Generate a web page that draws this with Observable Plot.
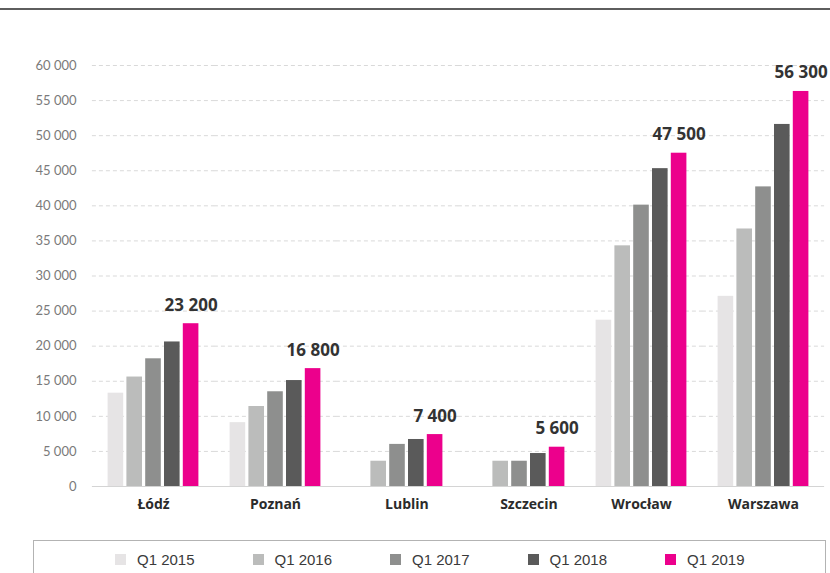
<!DOCTYPE html>
<html>
<head>
<meta charset="utf-8">
<script src="https://cdn.jsdelivr.net/npm/d3@7"></script>
<script src="https://cdn.jsdelivr.net/npm/@observablehq/plot@0.6"></script>
<style>
  html, body { margin: 0; padding: 0; background: #fff; }
  body { width: 830px; height: 573px; position: relative; overflow: hidden; font-family: Lato, "Open Sans", sans-serif; }
  #topline { position: absolute; left: 0; top: 8px; width: 830px; height: 2px; background: #5e5e5e; }
  #chart { position: absolute; left: 0; top: 0; }
  #legend { position: absolute; left: 33px; top: 540px; width: 793px; height: 40px; border: 1px solid #b3b3b3; border-bottom: none; box-sizing: border-box; display: flex; align-items: center; padding-left: 81px; padding-bottom: 2px; }
  .item { width: 137.5px; display: flex; align-items: center; font-family: "Liberation Sans", Arial, sans-serif; font-size: 15px; color: #3a3a3a; }
  .sw { width: 11px; height: 11px; margin-right: 11px; flex: none; }
</style>
</head>
<body>
<div id="topline"></div>
<div id="chart"></div>
<div id="legend"></div>
<script>
const cities = ["Łódź", "Poznań", "Lublin", "Szczecin", "Wrocław", "Warszawa"];
const series = ["Q1 2015", "Q1 2016", "Q1 2017", "Q1 2018", "Q1 2019"];
const colors = ["#e6e4e5", "#bbbcbb", "#8e8f8e", "#5a5a5a", "#ec008c"];
const q2015 = [13300, 9100, null, null, 23700, 27100];
const q2016 = [15600, 11400, 3600, 3600, 34300, 36700];
const q2017 = [18200, 13500, 6000, 3600, 40100, 42700];
const q2018 = [20600, 15100, 6700, 4700, 45300, 51600];
const q2019 = [23200, 16800, 7400, 5600, 47500, 56300];
const yTicks = [0, 5000, 10000, 15000, 20000, 25000, 30000, 35000, 40000, 45000, 50000, 55000, 60000];

const seriesValues = [q2015, q2016, q2017, q2018, q2019];
const rows = [];
cities.forEach((city, ci) => {
  seriesValues.forEach((vals, si) => {
    if (vals[ci] != null) rows.push({city, series: series[si], idx: si, value: vals[ci]});
  });
});
// label position: centre of the bars present in each city group
const cityLabels = cities.map(city => {
  const present = rows.filter(r => r.city === city).map(r => r.idx);
  return {city, x: (d3.min(present) + d3.max(present) + 1) / 2};
});
const topLabels = cities.map((city, ci) => ({city, idx: 4, value: q2019[ci]}));
const fmt = v => d3.format(",")(v).replace(/,/g, " ");

const half = 14.1;
const chart = Plot.plot({
  width: 830,
  height: 530,
  marginTop: 65,
  marginBottom: 44,
  marginLeft: 92,
  marginRight: 6,
  style: {fontFamily: "Lato, 'Open Sans', sans-serif", background: "transparent"},
  fx: {domain: cities, paddingInner: 0.2316, paddingOuter: 0.1158, axis: null, label: null},
  x: {domain: [0, 5], axis: null},
  y: {domain: [0, 60000], axis: null},
  color: {domain: series, range: colors},
  marks: [
    Plot.ruleY(yTicks.filter(d => d > 0), {stroke: "#d9d9d9", strokeDasharray: "4,3", insetLeft: -half, insetRight: -half}),
    Plot.ruleY([0], {stroke: "#d4d4d4", strokeWidth: 1.2, insetLeft: -half, insetRight: -half}),
    Plot.axisY(yTicks, {tickSize: 0, tickPadding: 30, tickFormat: fmt, fontSize: 13, fill: "#7a7a7a", label: null}),
    Plot.rectY(rows, {fx: "city", x1: "idx", x2: d => d.idx + 1, y: "value", fill: "series", insetLeft: 1.6, insetRight: 1.6}),
    Plot.text(topLabels, {fx: "city", x: d => d.idx + 0.5, y: "value", text: d => fmt(d.value), lineAnchor: "bottom", dy: -13, fontSize: 17, fontWeight: 700, fill: "#333", fontFamily: "'Open Sans', Lato, sans-serif"}),
    Plot.text(cityLabels, {fx: "city", x: "x", frameAnchor: "bottom", text: "city", lineAnchor: "top", dy: 13, fontSize: 14, fontWeight: 700, fill: "#2b2b2b", fontFamily: "'Open Sans', Lato, sans-serif"})
  ]
});
document.getElementById("chart").appendChild(chart);

const legend = document.getElementById("legend");
series.forEach((s, i) => {
  const item = document.createElement("div");
  item.className = "item";
  const sw = document.createElement("span");
  sw.className = "sw";
  sw.style.background = colors[i];
  const t = document.createElement("span");
  t.textContent = s;
  item.appendChild(sw);
  item.appendChild(t);
  legend.appendChild(item);
});
</script>
</body>
</html>
